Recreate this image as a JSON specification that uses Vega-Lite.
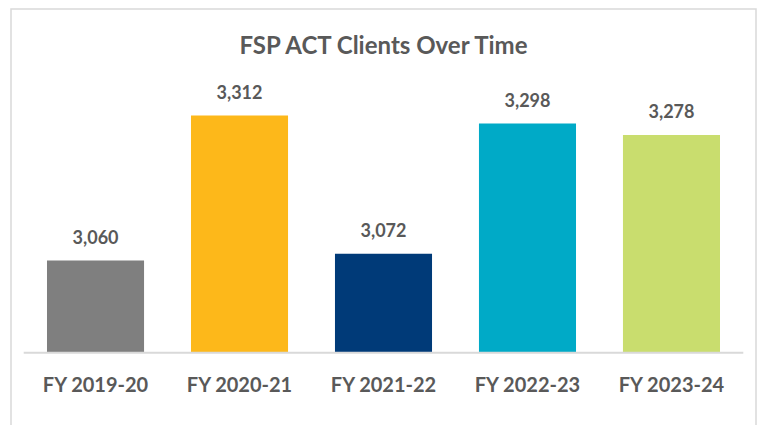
{
  "$schema": "https://vega.github.io/schema/vega-lite/v6.json",
  "width": 745,
  "height": 418,
  "autosize": {"type": "none"},
  "padding": {"left": 11, "top": 9, "right": 6, "bottom": 0},
  "background": "white",
  "config": {
    "view": {"stroke": "#d9d9d9", "strokeWidth": 1.5},
    "font": "Lato"
  },
  "title": {
    "text": "FSP ACT Clients Over Time",
    "anchor": "middle",
    "frame": "group",
    "font": "Lato",
    "fontSize": 24,
    "fontWeight": "bold",
    "color": "#595959",
    "baseline": "alphabetic",
    "offset": -69
  },
  "data": {
    "values": [
      {"year": "FY 2019-20", "clients": 3060},
      {"year": "FY 2020-21", "clients": 3312},
      {"year": "FY 2021-22", "clients": 3072},
      {"year": "FY 2022-23", "clients": 3298},
      {"year": "FY 2023-24", "clients": 3278}
    ]
  },
  "encoding": {
    "x": {
      "field": "year",
      "type": "nominal",
      "sort": null,
      "scale": {"paddingInner": 0.326, "paddingOuter": 0.25},
      "axis": {
        "title": null,
        "domain": false,
        "ticks": false,
        "labelAngle": 0,
        "labelFont": "Lato",
        "labelFontSize": 20,
        "labelFontWeight": "bold",
        "labelColor": "#595959",
        "labelPadding": 23,
        "offset": -74.5
      }
    }
  },
  "layer": [
    {
      "mark": {"type": "bar"},
      "encoding": {
        "y": {
          "field": "clients",
          "type": "quantitative",
          "scale": {"domain": [2771, 3497], "zero": false, "nice": false},
          "axis": null
        },
        "y2": {"datum": 2900},
        "color": {
          "field": "year",
          "type": "nominal",
          "sort": null,
          "scale": {"range": ["#7f7f7f", "#fdb81a", "#003a78", "#00aac7", "#c9dd6e"]},
          "legend": null
        }
      }
    },
    {
      "mark": {"type": "text", "baseline": "alphabetic", "dy": -17, "font": "Lato", "fontSize": 18, "fontWeight": "bold", "color": "#595959"},
      "encoding": {
        "y": {"field": "clients", "type": "quantitative"},
        "text": {"field": "clients", "type": "quantitative", "format": ","}
      }
    },
    {
      "data": {"values": [{"a": 1}]},
      "mark": {"type": "rule", "color": "#d9d9d9", "strokeWidth": 2},
      "encoding": {
        "x": {"datum": "FY 2019-20", "bandPosition": -0.24},
        "x2": {"datum": "FY 2023-24", "bandPosition": 1.24},
        "y": {"datum": 2900}
      }
    }
  ]
}
